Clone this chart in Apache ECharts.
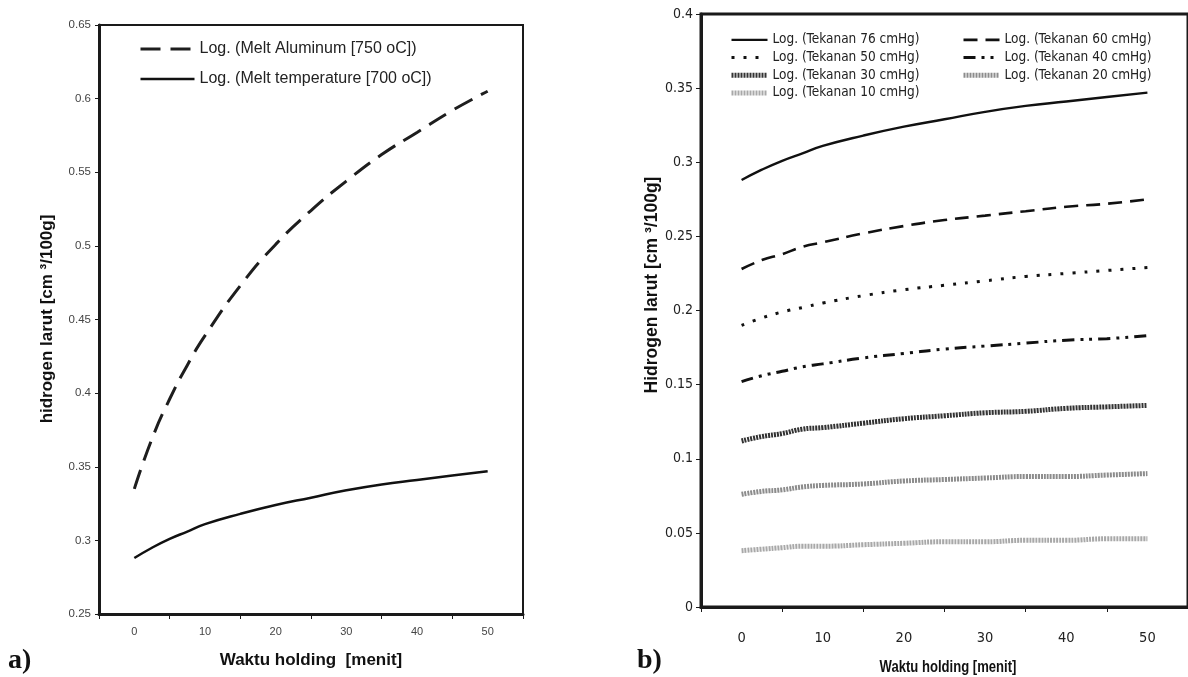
<!DOCTYPE html>
<html>
<head>
<meta charset="utf-8">
<script src="https://cdn.jsdelivr.net/npm/echarts@6/dist/echarts.min.js"></script>
<style>
html,body{margin:0;padding:0;background:#fff;}
#chart{width:1188px;height:677px;}
</style>
</head>
<body>
<div id="chart"></div>
<script>
// ---- data ----
const holdingTime = [0, 2.5, 5, 7.5, 10, 15, 20, 25, 30, 35, 40, 45, 50];
const categoryLabels = ['0', '10', '20', '30', '40', '50'];

// panel a
const meltAluminum750   = [0.335, 0.369, 0.396, 0.419, 0.439, 0.473, 0.501, 0.524, 0.544, 0.562, 0.577, 0.592, 0.605];
const meltTemperature700 = [0.288, 0.295, 0.301, 0.306, 0.311, 0.318, 0.324, 0.329, 0.334, 0.338, 0.341, 0.344, 0.347];

// panel b
const tekanan76 = [0.288, 0.295, 0.301, 0.306, 0.311, 0.318, 0.324, 0.329, 0.334, 0.338, 0.341, 0.344, 0.347];
const tekanan60 = [0.228, 0.234, 0.238, 0.243, 0.246, 0.252, 0.257, 0.261, 0.264, 0.267, 0.270, 0.272, 0.275];
const tekanan50 = [0.190, 0.195, 0.199, 0.202, 0.205, 0.210, 0.214, 0.217, 0.220, 0.223, 0.225, 0.227, 0.229];
const tekanan40 = [0.152, 0.156, 0.159, 0.162, 0.164, 0.168, 0.171, 0.174, 0.176, 0.178, 0.180, 0.181, 0.183];
const tekanan30 = [0.112, 0.115, 0.117, 0.120, 0.121, 0.124, 0.127, 0.129, 0.131, 0.132, 0.134, 0.135, 0.136];
const tekanan20 = [0.076, 0.078, 0.079, 0.081, 0.082, 0.083, 0.085, 0.086, 0.087, 0.088, 0.088, 0.089, 0.090];
const tekanan10 = [0.038, 0.039, 0.040, 0.041, 0.041, 0.042, 0.043, 0.044, 0.044, 0.045, 0.045, 0.046, 0.046];

const pairs = ys => holdingTime.map((x, i) => [x, ys[i]]);

const SANS = "'Liberation Sans', Arial, sans-serif";
const NARROW = "'DejaVu Sans Condensed', 'Liberation Sans Narrow', sans-serif";
const AXC = '#1a1a1a';

function line(name, ys, xi, yi, color, width, type) {
  return {
    name: name, type: 'line', data: pairs(ys), xAxisIndex: xi, yAxisIndex: yi,
    smooth: true, showSymbol: false, symbol: 'none', silent: true,
    lineStyle: { color: color, width: width, type: type },
    itemStyle: { color: color }
  };
}

const chart = echarts.init(document.getElementById('chart'), null, { renderer: 'canvas' });

const legendCommon = {
  orient: 'vertical', selectedMode: false,
  itemStyle: { opacity: 0 },
  lineStyle: { width: 'inherit', type: 'inherit', color: 'inherit' }
};

const option = {
  animation: false,
  backgroundColor: '#fff',
  grid: [
    { left: 99, top: 25, right: 665, bottom: 63, show: true, borderColor: AXC, borderWidth: 2, backgroundColor: 'transparent' },
    { left: 701, top: 14, right: -6, bottom: 70, show: true, borderColor: AXC, borderWidth: 3, backgroundColor: 'transparent' }
  ],
  xAxis: [
    { type: 'category', gridIndex: 0, data: categoryLabels, boundaryGap: true,
      axisLine: { onZero: false, lineStyle: { color: AXC, width: 3 } },
      axisTick: { show: true, length: 5, lineStyle: { color: AXC, width: 1 } },
      axisLabel: { color: '#444', fontSize: 11, fontFamily: SANS, margin: 12 },
      splitLine: { show: false } },
    { type: 'value', gridIndex: 0, min: -5, max: 55, show: false, splitLine: { show: false } },
    { type: 'category', gridIndex: 1, data: categoryLabels, boundaryGap: true,
      axisLine: { onZero: false, lineStyle: { color: AXC, width: 3 } },
      axisTick: { show: true, length: 5, lineStyle: { color: AXC, width: 1 } },
      axisLabel: { color: '#222', fontSize: 14.5, fontFamily: NARROW, margin: 24 },
      splitLine: { show: false } },
    { type: 'value', gridIndex: 1, min: -5, max: 55, show: false, splitLine: { show: false } }
  ],
  yAxis: [
    { type: 'value', gridIndex: 0, min: 0.25, max: 0.65, interval: 0.05,
      axisLine: { show: true, onZero: false, lineStyle: { color: AXC, width: 3 } },
      axisTick: { show: true, length: 4, lineStyle: { color: AXC, width: 1 } },
      axisLabel: { color: '#444', fontSize: 11.5, fontFamily: SANS, margin: 8 },
      splitLine: { show: false } },
    { type: 'value', gridIndex: 1, min: 0, max: 0.4, interval: 0.05,
      axisLine: { show: true, onZero: false, lineStyle: { color: AXC, width: 3 } },
      axisTick: { show: true, length: 5, lineStyle: { color: AXC, width: 1 } },
      axisLabel: { color: '#222', fontSize: 14, fontFamily: NARROW, margin: 8 },
      splitLine: { show: false } }
  ],
  legend: [
    Object.assign({}, legendCommon, { left: 134, top: 36, itemWidth: 54, itemHeight: 14, itemGap: 14, textGap: 7,
      textStyle: { fontSize: 16, color: '#222', fontFamily: SANS },
      data: ['Log. (Melt Aluminum [750 oC])', 'Log. (Melt temperature [700 oC])'] }),
    Object.assign({}, legendCommon, { left: 724, top: 26, itemWidth: 36, itemHeight: 12, itemGap: 0, textGap: 0,
      textStyle: { fontSize: 13.5, lineHeight: 17.7, color: '#222', fontFamily: NARROW },
      data: ['Log. (Tekanan 76 cmHg)', 'Log. (Tekanan 50 cmHg)', 'Log. (Tekanan 30 cmHg)', 'Log. (Tekanan 10 cmHg)'] }),
    Object.assign({}, legendCommon, { left: 956, top: 26, itemWidth: 36, itemHeight: 12, itemGap: 0, textGap: 4,
      textStyle: { fontSize: 13.5, lineHeight: 17.7, color: '#222', fontFamily: NARROW },
      data: ['Log. (Tekanan 60 cmHg)', 'Log. (Tekanan 40 cmHg)', 'Log. (Tekanan 20 cmHg)'] })
  ],
  series: [
    line('Log. (Melt Aluminum [750 oC])', meltAluminum750, 1, 0, '#1e1e1e', 3, [20, 10]),
    line('Log. (Melt temperature [700 oC])', meltTemperature700, 1, 0, '#111', 2.5, 'solid'),
    line('Log. (Tekanan 76 cmHg)', tekanan76, 3, 1, '#111', 2.4, 'solid'),
    line('Log. (Tekanan 60 cmHg)', tekanan60, 3, 1, '#111', 2.6, [14, 8]),
    line('Log. (Tekanan 50 cmHg)', tekanan50, 3, 1, '#111', 3, [3, 9]),
    line('Log. (Tekanan 40 cmHg)', tekanan40, 3, 1, '#111', 3, [12, 6, 3, 6, 3, 6]),
    line('Log. (Tekanan 30 cmHg)', tekanan30, 3, 1, '#333', 5, [2, 1]),
    line('Log. (Tekanan 20 cmHg)', tekanan20, 3, 1, '#8c8c8c', 5, [2, 1]),
    line('Log. (Tekanan 10 cmHg)', tekanan10, 3, 1, '#a8a8a8', 5, [2, 1])
  ],
  graphic: [
    { type: 'text', x: 47, y: 319, rotation: Math.PI / 2, silent: true,
      style: { text: 'hidrogen larut [cm \u00b3/100g]', font: "bold 17px 'Liberation Sans', Arial, sans-serif", fill: '#111', align: 'center', verticalAlign: 'middle' } },
    { type: 'text', x: 311, y: 660, silent: true,
      style: { text: 'Waktu holding  [menit]', font: "bold 17px 'Liberation Sans', Arial, sans-serif", fill: '#111', align: 'center', verticalAlign: 'middle' } },
    { type: 'text', x: 652, y: 285, rotation: Math.PI / 2, silent: true,
      style: { text: 'Hidrogen larut [cm \u00b3/100g]', font: "bold 17.5px 'Liberation Sans', Arial, sans-serif", fill: '#111', align: 'center', verticalAlign: 'middle' } },
    { type: 'text', x: 948, y: 667, scaleX: 0.77, silent: true,
      style: { text: 'Waktu holding [menit]', font: "bold 17px 'Liberation Sans', Arial, sans-serif", fill: '#111', align: 'center', verticalAlign: 'middle' } },
    { type: 'text', x: 8, y: 661, silent: true,
      style: { text: 'a)', font: "bold 28px 'Liberation Serif', 'Times New Roman', serif", fill: '#111', align: 'left', verticalAlign: 'middle' } },
    { type: 'text', x: 637, y: 661, silent: true,
      style: { text: 'b)', font: "bold 28px 'Liberation Serif', 'Times New Roman', serif", fill: '#111', align: 'left', verticalAlign: 'middle' } }
  ]
};

chart.setOption(option);
</script>
</body>
</html>
